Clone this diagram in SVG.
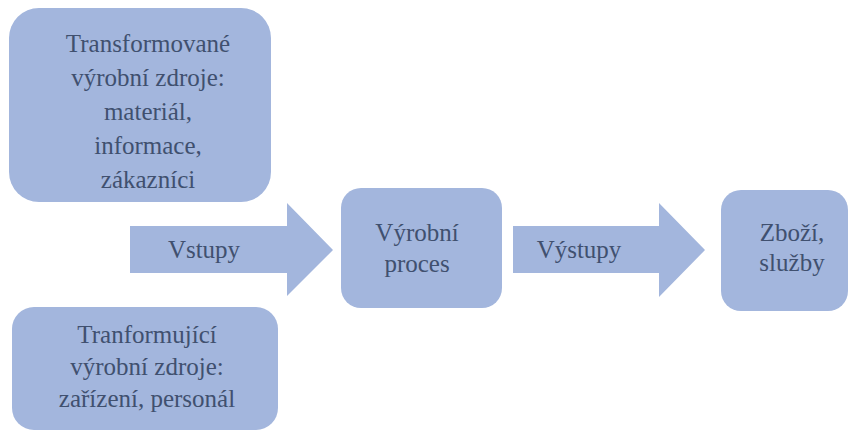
<svg xmlns="http://www.w3.org/2000/svg" width="849" height="432" viewBox="0 0 849 432">
  <defs>
    <style>
      .shape { fill: #a3b6dd; }
    </style>
  </defs>
  <rect width="849" height="432" fill="#ffffff"/>

  <!-- block arrows between the stages -->
  <g id="connectors" font-family="Times New Roman, Liberation Serif, serif" font-size="25" text-anchor="middle">
    <g id="arrow-vstupy">
      <polygon class="shape" points="130,226 287,226 287,203 333,250 287,296 287,273 130,273"/>
      <text x="204" y="258" fill="#40506f">Vstupy</text>
    </g>
    <g id="arrow-vystupy">
      <polygon class="shape" points="513,226 659,226 659,203 705,250 659,297 659,273 513,273"/>
      <text x="579" y="258" fill="#40506f">Výstupy</text>
    </g>
  </g>

  <g id="node-transformovane" font-family="Times New Roman, Liberation Serif, serif" font-size="25" text-anchor="middle" fill="#40506f">
    <rect class="shape" x="9" y="8" width="262" height="194" rx="30" ry="30"/>
    <text x="148" y="52">Transformované</text>
    <text x="148" y="86">výrobní zdroje:</text>
    <text x="148" y="120">materiál,</text>
    <text x="148" y="154">informace,</text>
    <text x="148" y="188">zákazníci</text>
  </g>

  <g id="node-transformujici" font-family="Times New Roman, Liberation Serif, serif" font-size="25" text-anchor="middle" fill="#40506f">
    <rect class="shape" x="12" y="307" width="266" height="123" rx="22" ry="22"/>
    <text x="147" y="343">Tranformující</text>
    <text x="147" y="375">výrobní zdroje:</text>
    <text x="147" y="407">zařízení, personál</text>
  </g>

  <g id="node-proces" font-family="Times New Roman, Liberation Serif, serif" font-size="25" text-anchor="middle" fill="#40506f">
    <rect class="shape" x="341" y="188" width="161" height="120" rx="20" ry="20"/>
    <text x="417" y="241">Výrobní</text>
    <text x="417" y="272">proces</text>
  </g>

  <g id="node-zbozi" font-family="Times New Roman, Liberation Serif, serif" font-size="25" text-anchor="middle" fill="#40506f">
    <rect class="shape" x="721" y="190" width="127" height="121" rx="20" ry="20"/>
    <text x="792" y="241">Zboží,</text>
    <text x="792" y="271">služby</text>
  </g>
</svg>
